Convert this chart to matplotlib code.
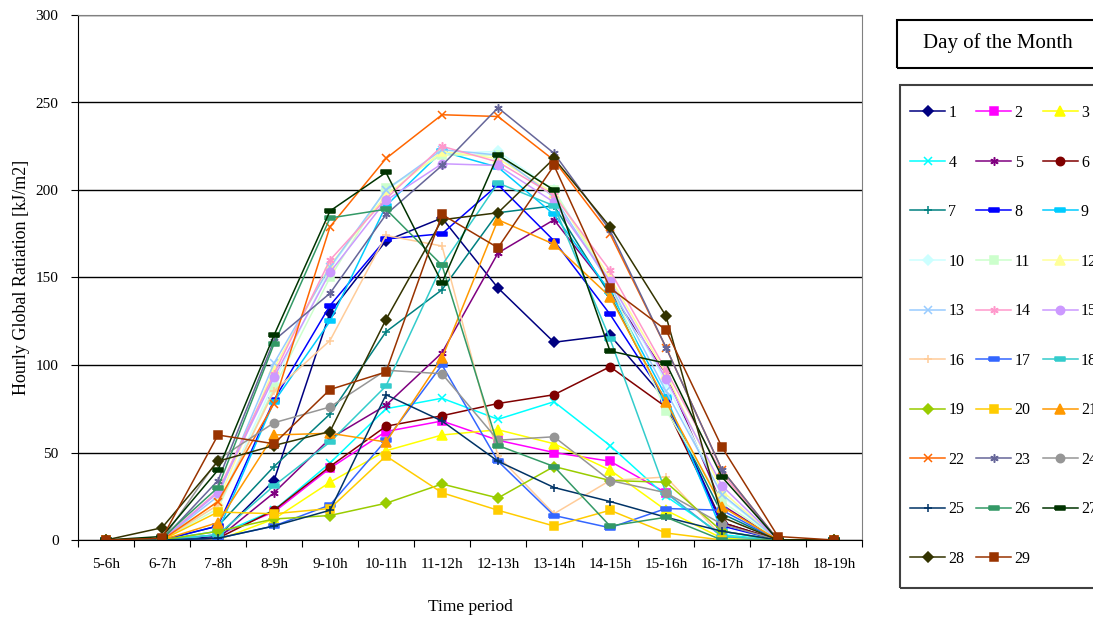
import numpy as np
import matplotlib.pyplot as plt
from matplotlib.patches import Rectangle

periods = ["5-6h", "6-7h", "7-8h", "8-9h", "9-10h", "10-11h", "11-12h",
           "12-13h", "13-14h", "14-15h", "15-16h", "16-17h", "17-18h", "18-19h"]

# hourly global radiation [kJ/m2] per day of the month
day_01 = [0, 0, 2, 34, 130, 171, 184, 144, 113, 117, 80, 10, 0, 0]
day_02 = [0, 0, 3, 16, 41, 62, 68, 57, 50, 45, 27, 2, 0, 0]
day_03 = [0, 0, 0, 12, 33, 51, 60, 63, 55, 40, 17, 1, 0, 0]
day_04 = [0, 0, 3, 17, 44, 75, 81, 69, 79, 54, 25, 3, 0, 0]
day_05 = [0, 0, 1, 27, 58, 77, 107, 164, 183, 142, 95, 20, 0, 0]
day_06 = [0, 0, 1, 17, 42, 65, 71, 78, 83, 99, 76, 10, 0, 0]
day_07 = [0, 0, 8, 42, 72, 119, 143, 187, 191, 140, 78, 15, 0, 0]
day_08 = [0, 0, 8, 80, 134, 172, 175, 203, 171, 129, 80, 8, 0, 0]
day_09 = [0, 0, 5, 79, 125, 191, 222, 213, 186, 142, 82, 5, 0, 0]
day_10 = [0, 0, 20, 90, 155, 200, 221, 222, 200, 148, 90, 25, 0, 0]
day_11 = [0, 0, 18, 87, 150, 201, 220, 220, 200, 146, 74, 22, 0, 0]
day_12 = [0, 0, 22, 98, 157, 197, 222, 218, 198, 150, 95, 28, 0, 0]
day_13 = [0, 0, 25, 101, 156, 200, 223, 220, 196, 146, 85, 26, 0, 0]
day_14 = [0, 0, 28, 95, 160, 195, 225, 216, 197, 154, 97, 38, 0, 0]
day_15 = [0, 0, 27, 93, 153, 194, 215, 214, 193, 148, 92, 31, 0, 0]
day_16 = [0, 0, 20, 85, 114, 174, 168, 48, 15, 34, 36, 2, 0, 0]
day_17 = [0, 0, 1, 8, 20, 57, 100, 45, 14, 7, 18, 17, 0, 0]
day_18 = [0, 0, 3, 31, 56, 88, 157, 204, 191, 115, 27, 2, 0, 0]
day_19 = [0, 0, 5, 12, 14, 21, 32, 24, 42, 34, 33, 5, 0, 0]
day_20 = [0, 0, 16, 15, 18, 48, 27, 17, 8, 17, 4, 0, 0, 0]
day_21 = [0, 0, 10, 60, 61, 56, 104, 183, 169, 139, 79, 19, 0, 0]
day_22 = [0, 0, 22, 78, 179, 218, 243, 242, 217, 175, 110, 40, 0, 0]
day_23 = [0, 0, 34, 114, 141, 186, 214, 247, 221, 177, 110, 40, 0, 0]
day_24 = [0, 0, 46, 67, 76, 97, 95, 57, 59, 34, 27, 9, 0, 0]
day_25 = [0, 0, 1, 8, 17, 83, 68, 45, 30, 22, 13, 5, 0, 0]
day_26 = [0, 1, 30, 112, 184, 189, 157, 54, 42, 8, 13, 0, 0, 0]
day_27 = [0, 2, 40, 117, 188, 210, 147, 220, 200, 108, 101, 36, 0, 0]
day_28 = [0, 7, 45, 54, 62, 126, 183, 187, 218, 179, 128, 13, 0, 0]
day_29 = [0, 1, 60, 55, 86, 96, 186, 167, 214, 144, 120, 53, 2, 0]

days = [day_01, day_02, day_03, day_04, day_05, day_06, day_07, day_08,
        day_09, day_10, day_11, day_12, day_13, day_14, day_15, day_16,
        day_17, day_18, day_19, day_20, day_21, day_22, day_23, day_24,
        day_25, day_26, day_27, day_28, day_29]

colors = ["#000080", "#FF00FF", "#FFFF00", "#00FFFF", "#800080", "#800000",
          "#008080", "#0000FF", "#00CCFF", "#CCFFFF", "#CCFFCC", "#FFFF99",
          "#99CCFF", "#FF99CC", "#CC99FF", "#FFCC99", "#3366FF", "#33CCCC",
          "#99CC00", "#FFCC00", "#FF9900", "#FF6600", "#666699", "#969696",
          "#003366", "#339966", "#003300", "#333300", "#993300"]

dash = [(-1, -0.35), (1, -0.35), (1, 0.35), (-1, 0.35), (-1, -0.35)]
star = (6, 2, 0)
marker_cycle = ["D", "s", "^", "x", star, "o", "+", dash, dash]
markers = [marker_cycle[i % 9] for i in range(29)]

plt.rcParams["font.family"] = ["Liberation Serif", "DejaVu Serif"]

fig = plt.figure(figsize=(10.93, 6.17), dpi=100)
ax = fig.add_axes([78 / 1093, 77 / 617, 784 / 1093, 525 / 617])

x = np.arange(len(periods))
for i, vals in enumerate(days):
    m = markers[i]
    size = 6
    if m == "^":
        size = 7
    elif m == "D":
        size = 5
    elif m is dash:
        size = 7
    ax.plot(x, vals, color=colors[i], marker=m, markersize=size,
            markeredgewidth=1.1, linewidth=1.1, label=str(i + 1))

ax.set_xlim(-0.5, len(periods) - 0.5)
ax.set_ylim(0, 300)
ax.set_yticks(np.arange(0, 301, 50))
ax.yaxis.grid(True, color="black", linewidth=1)
ax.set_axisbelow(True)

ax.set_xticks(np.arange(-0.5, len(periods), 1))
ax.set_xticklabels([])
ax.set_xticks(x, minor=True)
ax.set_xticklabels(periods, minor=True)
ax.tick_params(axis="x", which="major", length=5, direction="out")
ax.tick_params(axis="x", which="minor", length=0, pad=13, labelsize=11)
ax.tick_params(axis="y", length=5, pad=9, labelsize=11)

for side in ["top", "right"]:
    ax.spines[side].set_color("#808080")
ax.spines["left"].set_color("black")
ax.spines["bottom"].set_color("black")

ax.set_xlabel("Time period", fontsize=12.5, labelpad=20)
ax.set_ylabel("Hourly Global Ratiation [kJ/m2]", fontsize=13, labelpad=4)

handles, labels = ax.get_legend_handles_labels()
order = list(range(0, 29, 3)) + list(range(1, 29, 3)) + list(range(2, 29, 3))
leg = fig.legend([handles[k] for k in order], [labels[k] for k in order],
                 loc="upper left", bbox_to_anchor=(902 / 1093, 1 - 97 / 617),
                 ncol=3, frameon=False, fontsize=11.5,
                 handlelength=2.2, handletextpad=0.2, columnspacing=0.75,
                 labelspacing=2.1, borderpad=0.5, borderaxespad=0)

# legend frame and header box, both running off the right edge
fig.patches.append(Rectangle((900 / 1093, 1 - 588 / 617), 0.3, 503 / 617,
                             transform=fig.transFigure, fill=False,
                             edgecolor="#404040", linewidth=1.5))
fig.patches.append(Rectangle((897 / 1093, 1 - 68 / 617), 0.3, 48 / 617,
                             transform=fig.transFigure, fill=False,
                             edgecolor="black", linewidth=1.5))
fig.text(998 / 1093, 1 - 43 / 617, "Day of the Month", ha="center",
         va="center", fontsize=15)

fig.savefig("out.png", dpi=100)
